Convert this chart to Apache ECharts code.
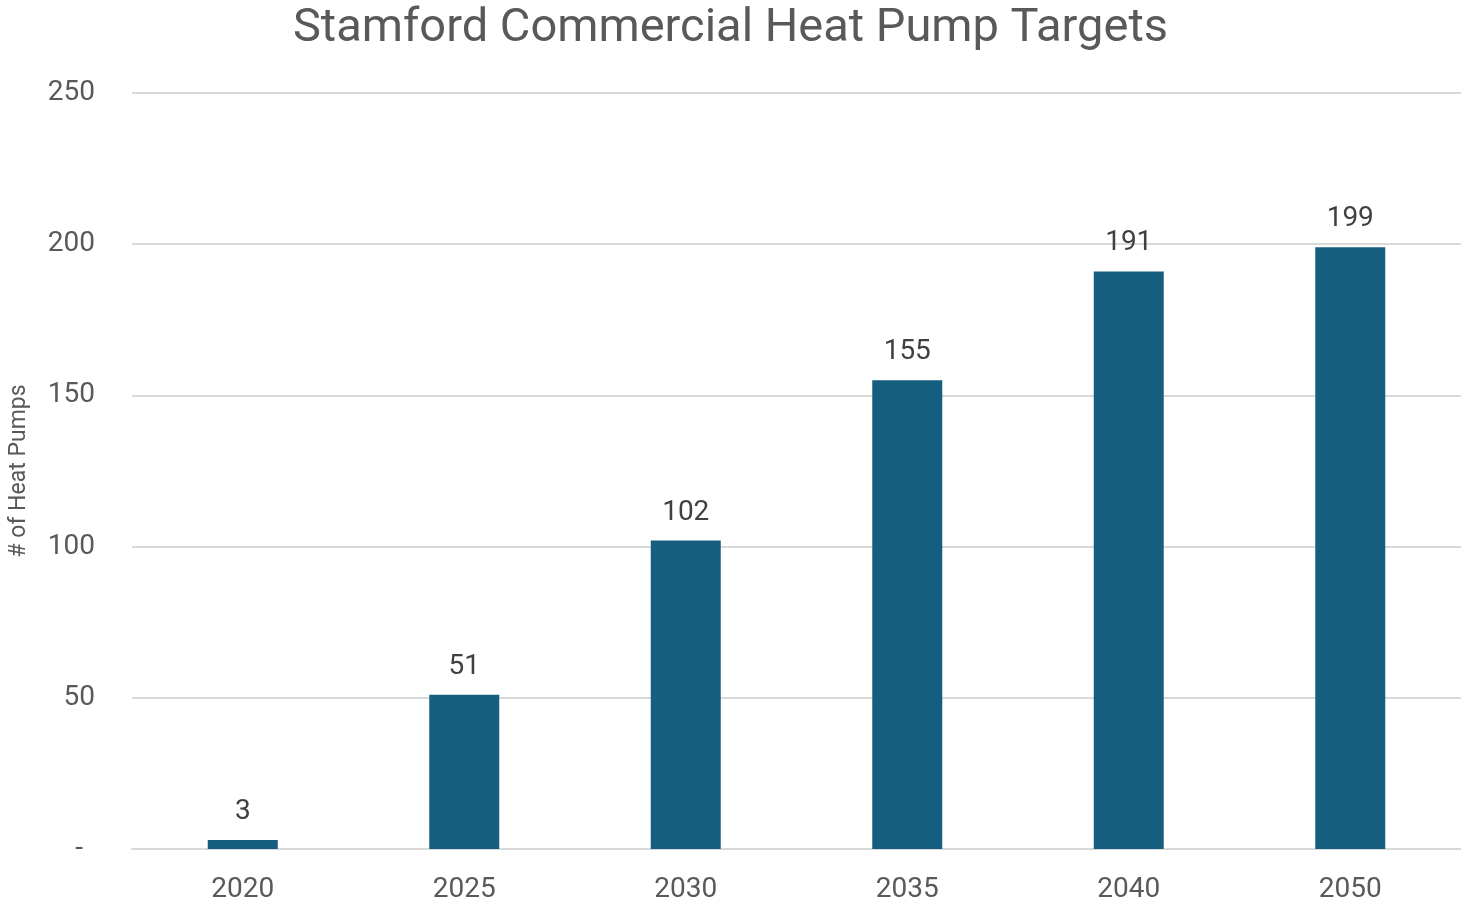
<!DOCTYPE html>
<html>
<head>
<meta charset="utf-8">
<script src="https://cdn.jsdelivr.net/npm/echarts@6/dist/echarts.min.js"></script>
<style>
html,body{margin:0;padding:0;background:#fff;}
#chart{width:1461px;height:908px;}
</style>
</head>
<body>
<div id="chart"></div>
<script>
const categories = ['2020', '2025', '2030', '2035', '2040', '2050'];
const heatPumps = [3, 51, 102, 155, 191, 199];
const yTicks = [0, 50, 100, 150, 200, 250];

const chart = echarts.init(document.getElementById('chart'));
chart.setOption({
  backgroundColor: '#ffffff',
  animation: false,
  title: {
    text: 'Stamford Commercial Heat Pump Targets',
    left: 'center',
    top: 1,
    textStyle: { fontFamily: 'Roboto', fontSize: 47, fontWeight: 'normal', color: '#595959' }
  },
  grid: { left: 132, right: -3, top: 93, bottom: 59, containLabel: false },
  xAxis: {
    type: 'category',
    data: categories,
    axisLine: { show: true, lineStyle: { color: '#d9d9d9', width: 2 } },
    axisTick: { show: false },
    axisLabel: { fontFamily: 'Roboto', fontSize: 28, color: '#595959', margin: 27 }
  },
  yAxis: {
    type: 'value',
    min: yTicks[0],
    max: yTicks[yTicks.length - 1],
    interval: 50,
    name: '# of Heat Pumps',
    nameLocation: 'middle',
    nameGap: 101,
    nameTextStyle: { fontFamily: 'Roboto', fontSize: 23, color: '#595959' },
    axisLine: { show: false },
    axisTick: { show: false },
    splitLine: { lineStyle: { color: '#d9d9d9', width: 2 } },
    axisLabel: {
      fontFamily: 'Roboto', fontSize: 28, color: '#595959', margin: 37,
      formatter: v => v === 0 ? '{d|-}' : String(v),
      rich: { d: { fontFamily: 'Roboto', fontSize: 28, color: '#595959', padding: [0, 12, 0, 0] } }
    }
  },
  series: [{
    type: 'bar',
    data: heatPumps,
    barWidth: 70,
    itemStyle: { color: '#165E80' },
    label: {
      show: true, position: 'top', distance: 14,
      fontFamily: 'Roboto', fontSize: 28, color: '#404040'
    }
  }]
});
</script>
</body>
</html>
